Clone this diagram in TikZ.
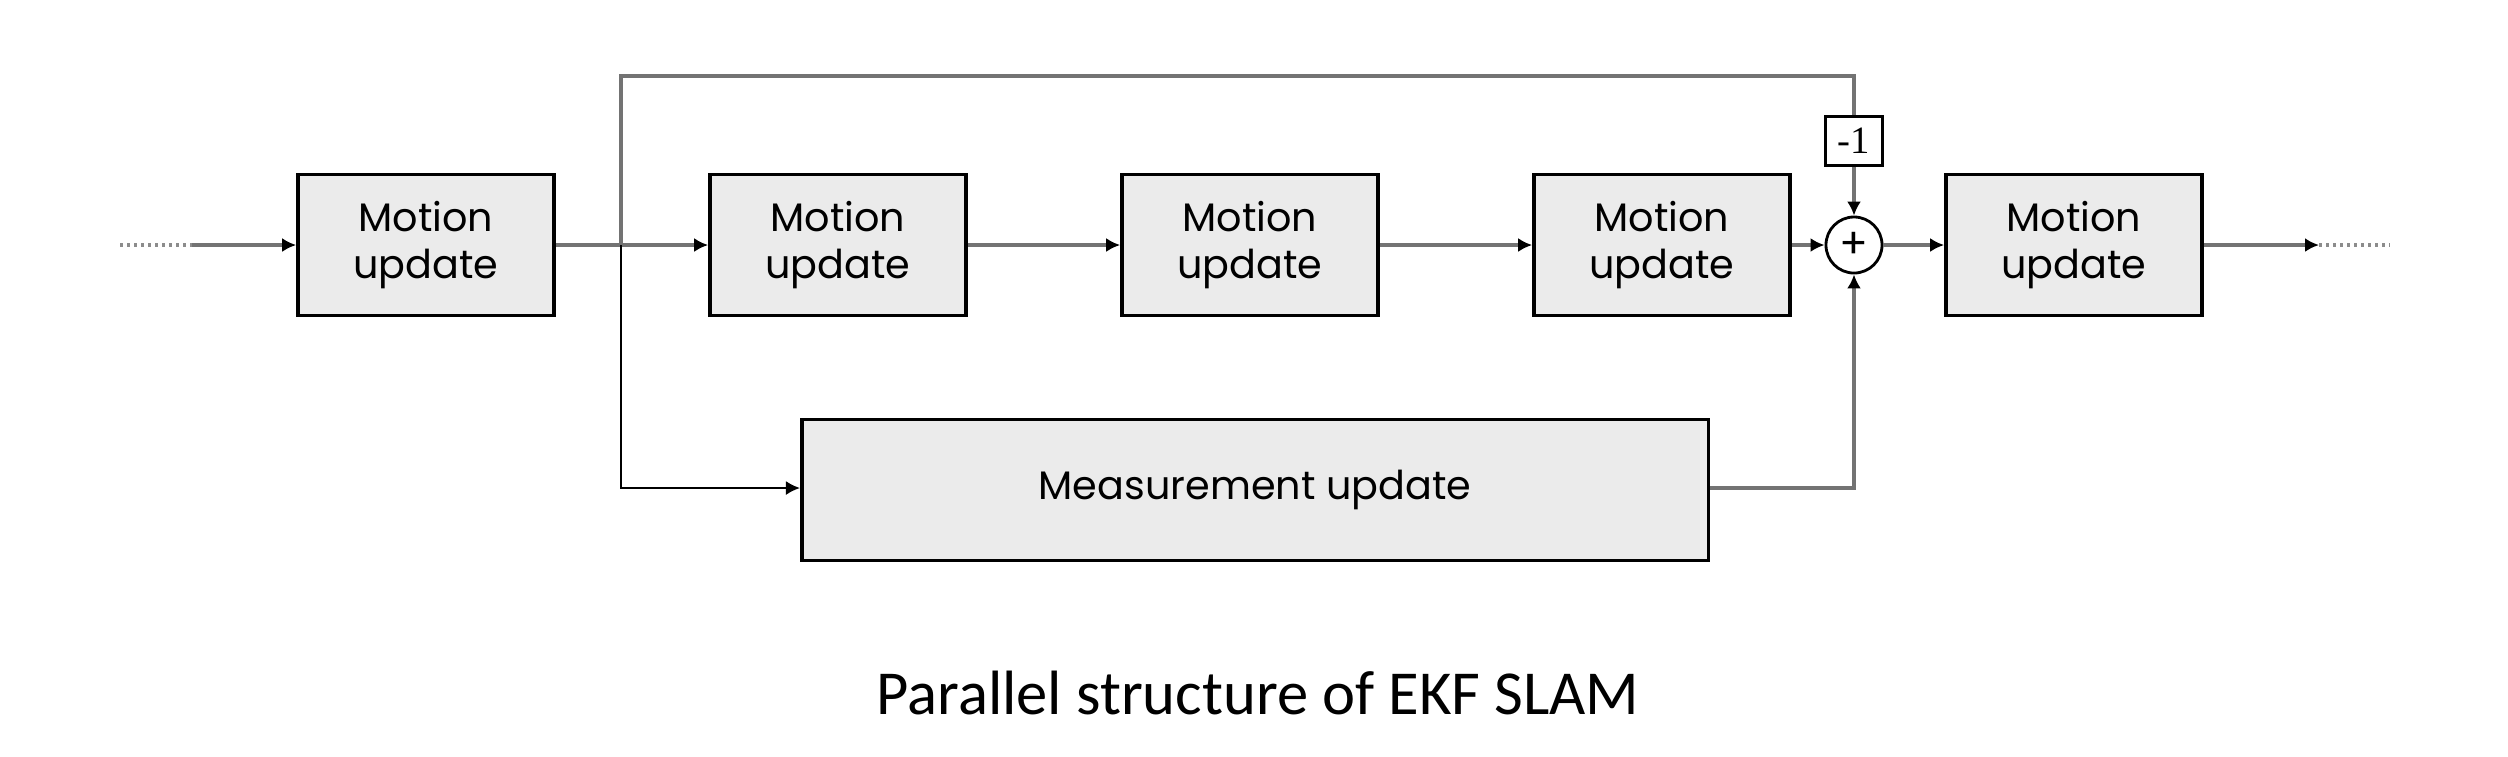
\documentclass[tikz,border=0pt]{standalone}
\usepackage{fontspec}
\setmainfont{Poppins}
\newfontfamily\capfont{Carlito}
\newfontfamily\numfont{Liberation Serif}
\usetikzlibrary{arrows.meta}
\begin{document}
\begin{tikzpicture}[x=0.01cm,y=-0.01cm,
  block/.style={draw=black,line width=1pt,fill=black!8,minimum width=2.56cm,minimum height=1.41cm,inner sep=0pt,align=center,font=\fontsize{11.3}{13.2}\selectfont},
  tip/.style={-{Latex[length=1.4mm,width=1.4mm,color=black]}},
  conn/.style={draw=black!55,line width=1.1pt,tip},
  thinconn/.style={draw=black,line width=0.6pt,tip},
  dots/.style={draw=black!45,line width=1.1pt,dash pattern=on 0.8pt off 1.2pt}]
\useasboundingbox (0,0) rectangle (2508,756);
\node[block] (m1) at (426,245) {Motion\\update};
\node[block] (m2) at (838,245) {Motion\\update};
\node[block] (m3) at (1250,245) {Motion\\update};
\node[block] (m4) at (1662,245) {Motion\\update};
\node[block] (m5) at (2074,245) {Motion\\update};
\node[draw=black,line width=0.8pt,circle,minimum size=0.56cm,inner sep=0pt,font=\fontsize{12}{12}\selectfont] (sum) at (1854,245) {+};
\node[draw=black,line width=0.8pt,fill=white,minimum width=0.57cm,minimum height=0.49cm,inner sep=0pt,font=\numfont\fontsize{11}{12}\selectfont] (neg) at (1854,141) {-1};
\node[block,minimum width=9.06cm] (meas) at (1255,490) {Measurement update};
\coordinate (inA) at (120,245);
\coordinate (inB) at (192,245);
\coordinate (outA) at (2319,245);
\coordinate (outB) at (2390,245);
\coordinate (br) at (621,245);
\coordinate (topL) at (621,76);
\coordinate (topR) at (1854,76);
\coordinate (botL) at (621,488);
\coordinate (botR) at (1854,488);
\draw[dots] (inA) -- (inB);
\draw[conn] (inB) -- (m1.west);
\draw[conn] (m1.east) -- (m2.west);
\draw[conn] (m2.east) -- (m3.west);
\draw[conn] (m3.east) -- (m4.west);
\draw[conn] (m4.east) -- (sum.west);
\draw[conn] (sum.east) -- (m5.west);
\draw[conn] (m5.east) -- (outA);
\draw[dots] (outA) -- (outB);
\draw[draw=black!55,line width=1.1pt] (br) -- (topL) -- (topR) -- (neg.north);
\draw[conn] (neg.south) -- (sum.north);
\draw[thinconn] (br) -- (botL) -- (meas.west |- botL);
\draw[conn] (meas.east |- botR) -- (botR) -- (sum.south);
\node[font=\capfont\fontsize{17.8}{20}\selectfont] (cap) at (1258,693) {Parallel structure of EKF SLAM};
\end{tikzpicture}
\end{document}
